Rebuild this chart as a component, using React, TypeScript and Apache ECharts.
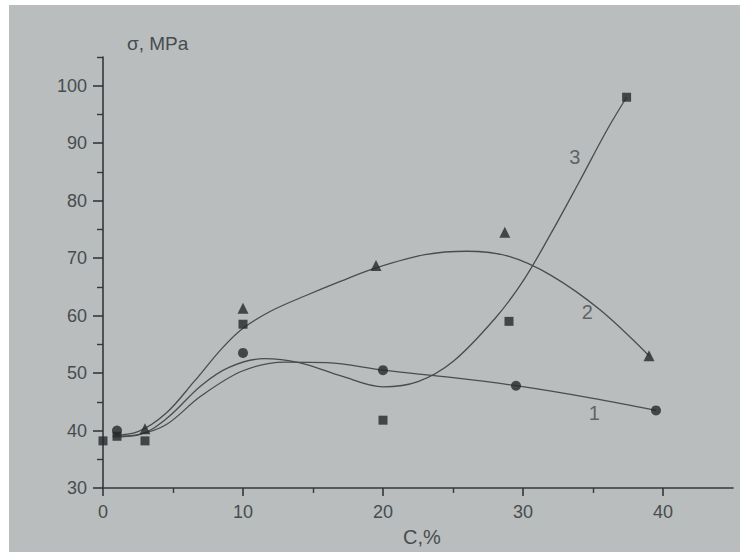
import React, { useEffect, useRef } from "react";
import * as echarts from "echarts";

// Measured points (C, % ; σ, MPa)
const circlePts: [number, number][] = [[1, 40], [10, 53.5], [20, 50.5], [29.5, 47.8], [39.5, 43.5]];
const squarePts: [number, number][] = [[0, 38.2], [1, 39], [3, 38.2], [10, 58.5], [20, 41.8], [29, 59], [37.4, 98]];
const trianglePts: [number, number][] = [[3, 40.3], [10, 61.3], [19.5, 68.7], [28.7, 74.5], [39, 53]];

// Fitted curves
const curve1: [number, number][] = [[0.7, 39], [2.5, 39.3], [4.5, 41], [7, 46], [10, 50.4], [13, 51.9], [16, 51.8], [20, 50.5], [25, 49.2], [29.5, 47.8], [35, 45.6], [39.5, 43.5]];
const curve2: [number, number][] = [[0.7, 39.2], [2.5, 39.8], [4.5, 43], [6.5, 48.5], [8.5, 54.3], [10, 57.8], [12, 60.8], [14.5, 63.5], [17, 66], [19.5, 68.3], [23, 70.6], [26, 71.2], [29, 70.3], [32, 67], [35.5, 61], [39, 53]];
const curve3: [number, number][] = [[0.7, 38.9], [2.5, 39.2], [4.5, 42], [7, 47.8], [9, 51], [11.5, 52.5], [14, 51.8], [17, 49.5], [20, 47.6], [22.5, 48.5], [25, 52], [28, 59.5], [30, 66], [32, 74.3], [34, 83.2], [36, 92.3], [37.4, 98]];

const curveLabels: [number, number, string][] = [[35.1, 43, "1"], [34.6, 60.6, "2"], [33.7, 87.6, "3"]];

const xMajor = [0, 10, 20, 30, 40];
const xMinor = [5, 15, 25, 35];
const yMajor = [30, 40, 50, 60, 70, 80, 90, 100];
const yMinor = [35, 45, 55, 65, 75, 85, 95, 105];

const TXT = "#474c50";
const AX = "#34383c";
const LN = "#4a4c4e";
const MK = "#26282a";
const FONT = "Liberation Sans";

export default function App() {
  const ref = useRef<HTMLDivElement>(null);
  useEffect(() => {
    if (!ref.current) return;
    const chart = echarts.init(ref.current, undefined, { renderer: "svg" });
    const lineSeries = (d: [number, number][]) => ({
      type: "line",
      data: d,
      smooth: 0.35,
      symbol: "none",
      lineStyle: { color: LN, width: 1.3 },
      z: 2,
    });
    const scatter = (d: [number, number][], symbol: string, size: number) => ({
      type: "scatter",
      data: d,
      symbol,
      symbolSize: size,
      itemStyle: { color: MK },
      z: 3,
    });
    const axisCommon = {
      type: "value",
      axisLine: { show: true, lineStyle: { color: AX, width: 1.6 } },
      splitLine: { show: false },
    };
    chart.setOption({
      animation: false,
      backgroundColor: "#ffffff",
      grid: { left: 103, right: 7, top: 57, bottom: 64 },
      xAxis: [
        {
          ...axisCommon,
          position: "bottom",
          min: 0,
          max: 45,
          interval: 5,
          axisTick: { show: true, length: 8, customValues: xMajor, lineStyle: { color: AX, width: 1.6 } },
          axisLabel: { customValues: xMajor, color: TXT, fontSize: 18, fontFamily: FONT, margin: 15 },
        },
        {
          ...axisCommon,
          position: "bottom",
          offset: 0,
          min: 0,
          max: 45,
          interval: 5,
          axisLine: { show: false },
          axisTick: { show: true, length: 5, customValues: xMinor, lineStyle: { color: AX, width: 1.4 } },
          axisLabel: { show: false },
        },
      ],
      yAxis: [
        {
          ...axisCommon,
          position: "left",
          min: 30,
          max: 105,
          interval: 5,
          axisTick: { show: true, length: 10, customValues: yMajor, lineStyle: { color: AX, width: 1.6 } },
          axisLabel: { customValues: yMajor, color: TXT, fontSize: 18, fontFamily: FONT, margin: 16 },
        },
        {
          ...axisCommon,
          position: "left",
          offset: 0,
          min: 30,
          max: 105,
          interval: 5,
          axisLine: { show: false },
          axisTick: { show: true, length: 6, customValues: yMinor, lineStyle: { color: AX, width: 1.4 } },
          axisLabel: { show: false },
        },
      ],
      graphic: [
        {
          type: "rect",
          left: 9,
          top: 5,
          z: -10,
          shape: { width: 731, height: 547 },
          style: { fill: "#b9bdbd" },
        },
        {
          type: "text",
          left: 127,
          top: 34,
          style: { text: "σ, MPa", fill: TXT, font: `19px "${FONT}"` },
        },
        {
          type: "text",
          left: 403,
          top: 527,
          style: { text: "C,%", fill: TXT, font: `20px "${FONT}"` },
        },
      ],
      series: [
        lineSeries(curve1),
        lineSeries(curve2),
        lineSeries(curve3),
        scatter(circlePts, "circle", 10),
        scatter(squarePts, "rect", 9),
        scatter(trianglePts, "triangle", 11),
        {
          type: "scatter",
          data: curveLabels.map((c) => ({ value: [c[0], c[1]], name: c[2] })),
          symbolSize: 0,
          label: {
            show: true,
            position: "inside",
            formatter: (p: any) => p.name,
            color: TXT,
            fontSize: 20,
            fontFamily: FONT,
          },
          z: 4,
        },
      ],
    });
    return () => chart.dispose();
  }, []);
  return (
    <div
      ref={ref}
      style={{ position: "fixed", left: 0, top: 0, width: 740, height: 552 }}
    />
  );
}
